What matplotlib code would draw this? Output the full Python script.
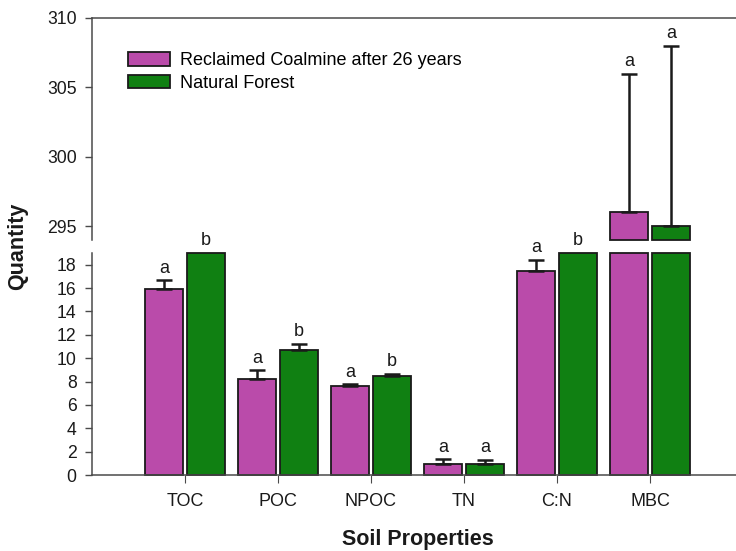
import numpy as np
import matplotlib
matplotlib.use("Agg")
import matplotlib.pyplot as plt
from matplotlib.patches import Patch

plt.rcParams["font.family"] = ["Liberation Sans", "DejaVu Sans"]

# Soil properties and group means (broken y axis: lower and upper panels)
categories = ["TOC", "POC", "NPOC", "TN", "C:N", "MBC"]
reclaimed = [15.9, 8.25, 7.65, 0.9, 17.5, 296.0]
reclaimed_err = [0.75, 0.7, 0.12, 0.45, 0.9, 10.0]
forest = [24.0, 10.7, 8.5, 0.95, 23.0, 295.0]
forest_err = [0.8, 0.55, 0.17, 0.33, 0.9, 13.0]
reclaimed_sig = ["a", "a", "a", "a", "a", "a"]
forest_sig = ["b", "b", "b", "a", "b", "a"]
series_names = ["Reclaimed Coalmine after 26 years", "Natural Forest"]

lower_lim = (0, 19)
upper_lim = (294, 310)
lower_ticks = list(range(0, 19, 2))
upper_ticks = [295, 300, 305, 310]

colors = ["#BA4BAA", "#108012"]
edge = "#1a1a1a"
spine_col = "#4a4a4a"

W, H = 736, 551
fig = plt.figure(figsize=(W / 100, H / 100), dpi=100)
ax_hi = fig.add_axes([92 / W, 311 / H, 651 / W, 222 / H])
ax_lo = fig.add_axes([92 / W, 76 / H, 651 / W, 222 / H])
ax_hi.patch.set_visible(False)
ax_lo.patch.set_visible(False)

x = np.arange(1, len(categories) + 1)
offset = 0.226
width = 0.41

series = [
    (np.array(reclaimed), np.array(reclaimed_err), reclaimed_sig, -offset, colors[0]),
    (np.array(forest), np.array(forest_err), forest_sig, offset, colors[1]),
]

for vals, errs, sigs, dx, col in series:
    xs = x + dx
    # lower panel: bars cut at the top of the panel
    h_lo = np.minimum(vals, lower_lim[1])
    ax_lo.bar(xs, h_lo, width, color=col, edgecolor=edge, linewidth=1.3,
              clip_on=False, zorder=2)
    inside = vals < lower_lim[1]
    ax_lo.errorbar(xs[inside], vals[inside],
                   yerr=[np.zeros(inside.sum()), errs[inside]],
                   fmt="none", ecolor=edge, elinewidth=1.8, capsize=5.5,
                   capthick=1.8, zorder=3)
    # upper panel: part of the bar above the break
    up = vals > upper_lim[0]
    ax_hi.bar(xs[up], vals[up] - upper_lim[0], width, bottom=upper_lim[0],
              color=col, edgecolor=edge, linewidth=1.3, clip_on=False, zorder=2)
    ax_hi.errorbar(xs[up], vals[up],
                   yerr=[np.zeros(up.sum()), errs[up]],
                   fmt="none", ecolor=edge, elinewidth=1.8, capsize=5.5,
                   capthick=1.8, zorder=3)
    # significance letters
    for xi, v, e, s in zip(xs, vals, errs, sigs):
        if v > upper_lim[0]:
            ax, y = ax_hi, v + e
        elif v < lower_lim[1]:
            ax, y = ax_lo, v + e
        else:
            ax, y = ax_lo, lower_lim[1]
        ax.annotate(s, (xi, y), xytext=(0, 5.5), textcoords="offset points",
                    ha="center", va="baseline", fontsize=13, color="#1a1a1a",
                    annotation_clip=False, zorder=5)

for ax in (ax_lo, ax_hi):
    ax.set_xlim(0, 7)
    ax.spines["right"].set_visible(False)
    for sp in ax.spines.values():
        sp.set_color(spine_col)
        sp.set_linewidth(1.1)
    ax.tick_params(axis="y", direction="out", length=5, width=1,
                   color=spine_col, labelsize=12.7, pad=6, labelcolor="#1a1a1a")

ax_lo.set_ylim(*lower_lim)
ax_lo.set_yticks(lower_ticks)
ax_lo.spines["top"].set_visible(False)
ax_lo.set_xticks(x)
ax_lo.set_xticklabels(categories)
ax_lo.tick_params(axis="x", direction="out", length=6, width=0.8,
                  color=spine_col, labelsize=13, pad=7, labelcolor="#1a1a1a")

ax_hi.set_ylim(*upper_lim)
ax_hi.set_yticks(upper_ticks)
ax_hi.spines["bottom"].set_visible(False)
ax_hi.set_xticks([])

handles = [Patch(facecolor=c, edgecolor=edge, linewidth=1.3) for c in colors]
fig.legend(handles, series_names, loc="upper left",
           bbox_to_anchor=(128 / W, 1 - 52 / H), frameon=False,
           fontsize=13, handlelength=2.3, handleheight=0.8,
           handletextpad=0.6, labelspacing=0.3, borderpad=0,
           borderaxespad=0)

fig.text(18 / W, 1 - 246 / H, "Quantity", rotation=90, ha="center",
         va="center", fontsize=15.5, fontweight="bold", color="#1a1a1a")
fig.text((92 + 651 / 2) / W, 1 - 539 / H, "Soil Properties", ha="center",
         va="center", fontsize=15.5, fontweight="bold", color="#1a1a1a")

fig.savefig("out.png", dpi=100)
